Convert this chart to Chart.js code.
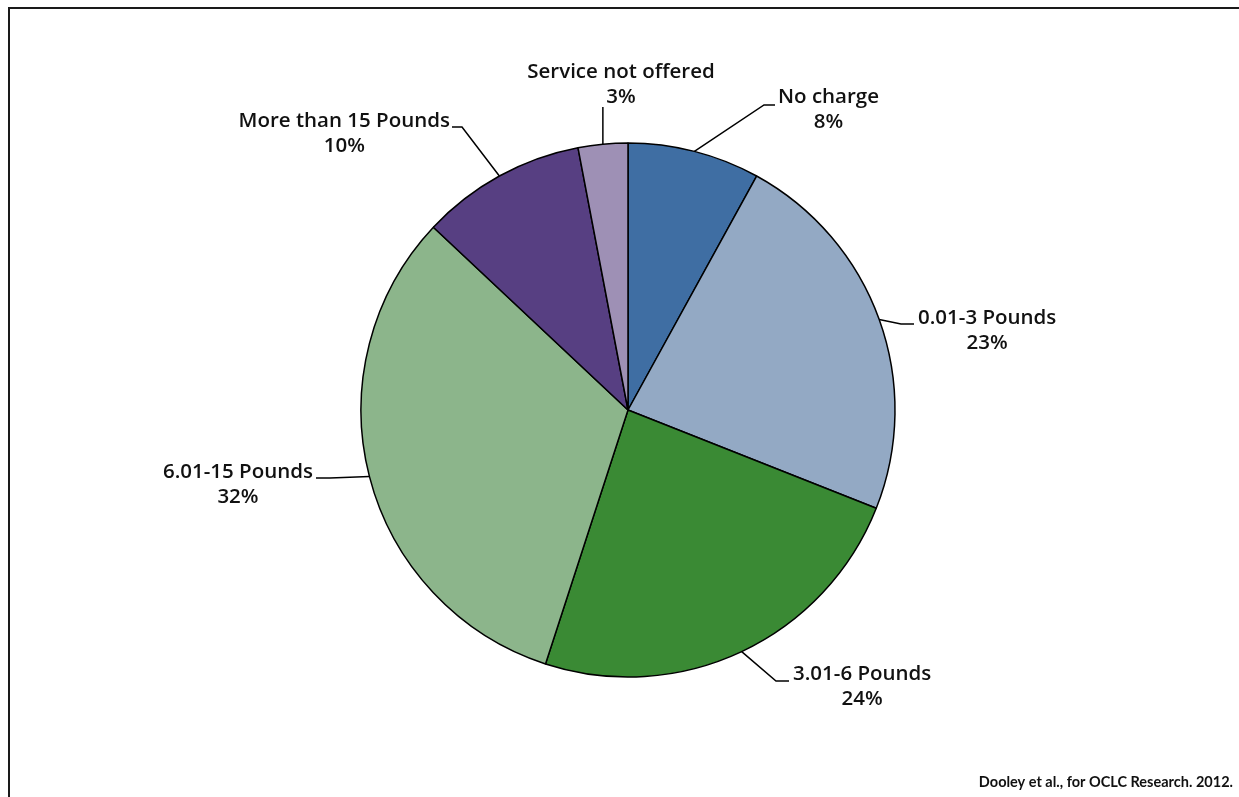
<!DOCTYPE html>
<html>
<head>
<meta charset="utf-8">
<title>ILL charges</title>
<script src="https://cdn.jsdelivr.net/npm/chart.js@4.4.1/dist/chart.umd.min.js"></script>
<style>
    html, body { margin: 0; padding: 0; background: #fff; overflow: hidden; }
    #wrap { position: relative; width: 1239px; height: 797px; overflow: hidden; }
    #frame {
        position: absolute; left: 8px; top: 7px;
        width: 1400px; height: 900px;
        border: 2px solid #1a1a1a; box-sizing: border-box;
    }
    #chart { position: absolute; left: 0; top: 0; }
</style>
</head>
<body>
<div id="wrap">
    <div id="frame"></div>
    <canvas id="chart" width="1239" height="797"></canvas>
</div>
<script>
// categorias e percentuais
const categorias = ['No charge', '0.01-3 Pounds', '3.01-6 Pounds', '6.01-15 Pounds', 'More than 15 Pounds', 'Service not offered'];
const percentuais = [8, 23, 24, 32, 10, 3];
const cores = ['#3F6EA3', '#93A9C4', '#3A8A34', '#8CB58B', '#573F82', '#9E90B5'];
const fonte = 'Dooley et al., for OCLC Research. 2012.';

// onde fica cada rótulo (centro da 1a linha) e o caminho da linha-guia
const rotulos = [
    { x: 816, y: 97,  align: 'left',   left: 778, guia: [[764, 105], [775, 105]] },
    { x: 980, y: 318, align: 'left',   left: 918, guia: [[901, 324], [914, 324]] },
    { x: 862, y: 674, align: 'left',   left: 793, guia: [[776, 681], [789, 681]] },
    { x: 250, y: 472, align: 'right',  right: 313, guia: [[330, 478], [316, 478]] },
    { x: 343, y: 121, align: 'right',  right: 450, guia: [[462, 127], [452, 127]] },
    { x: 621, y: 72,  align: 'center', guia: [[null, 107]] }
];

const fonteRotulo = '600 20.5px "Open Sans", sans-serif';

const pluginRotulos = {
    id: 'rotulos',
    afterDatasetsDraw(chart) {
        const ctx = chart.ctx;
        const arcos = chart.getDatasetMeta(0).data;
        ctx.save();
        ctx.strokeStyle = '#000';
        ctx.lineWidth = 1.5;
        ctx.fillStyle = '#111';
        ctx.font = fonteRotulo;
        ctx.textBaseline = 'middle';

        arcos.forEach((arc, i) => {
            const r = rotulos[i];
            const meio = (arc.startAngle + arc.endAngle) / 2;
            const ex = arc.x + Math.cos(meio) * arc.outerRadius;
            const ey = arc.y + Math.sin(meio) * arc.outerRadius;

            // linha-guia
            ctx.beginPath();
            ctx.moveTo(ex, ey);
            r.guia.forEach(p => ctx.lineTo(p[0] === null ? ex : p[0], p[1]));
            ctx.stroke();

            // texto em duas linhas, centralizado
            const l1 = categorias[i];
            const l2 = percentuais[i] + '%';
            const w = ctx.measureText(l1).width;
            let cx = r.x;
            if (r.align === 'left') cx = r.left + w / 2;
            if (r.align === 'right') cx = r.right - w / 2;
            ctx.textAlign = 'center';
            ctx.fillText(l1, cx, r.y);
            ctx.fillText(l2, cx, r.y + 25);
        });

        // fonte no canto
        ctx.font = 'bold 14.5px Lato, sans-serif';
        ctx.textAlign = 'right';
        ctx.textBaseline = 'alphabetic';
        ctx.fillText(fonte, 1233, 787);
        ctx.restore();
    }
};

const ctx = document.getElementById('chart').getContext('2d');
const grafico = new Chart(ctx, {
    type: 'pie',
    data: {
        labels: categorias,
        datasets: [{
            data: percentuais,
            backgroundColor: cores,
            borderColor: '#000',
            borderWidth: 1.5
        }]
    },
    options: {
        responsive: false,
        animation: false,
        radius: 267,
        layout: { padding: { top: 143, bottom: 120, left: 361, right: 344 } },
        plugins: {
            legend: { display: false },
            tooltip: { enabled: false }
        }
    },
    plugins: [pluginRotulos]
});
</script>
</body>
</html>
